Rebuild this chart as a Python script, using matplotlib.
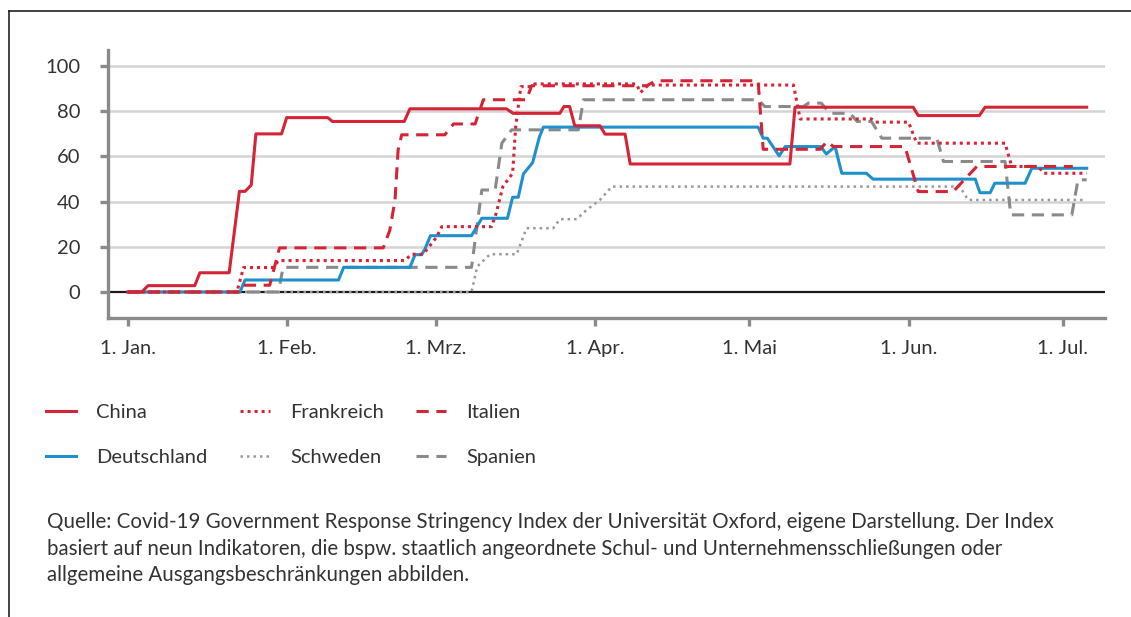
import matplotlib
matplotlib.use("Agg")
import matplotlib.pyplot as plt

# Tage ab 1. Januar 2020 und Indexwerte (Stufen)
china_days = [0, 2.7, 3.9, 13, 14, 19.7, 21.7, 22.8, 24, 24.9, 29.9, 30.9, 38.9, 39.8, 53.8, 54.9, 73.7, 75, 84.1, 84.9,
              86, 87, 91.9, 92.9, 96.8, 97.8, 128.9, 129.9, 152.9, 153.9, 165.8, 166.9, 186.7]
china_vals = [0, 0, 2.8, 2.8, 8.5, 8.5, 44.5, 44.5, 47.3, 69.9, 69.9, 77.1, 77.1, 75.4, 75.4, 81, 81, 79, 79, 82,
              82, 73.5, 73.5, 69.8, 69.8, 56.6, 56.6, 81.7, 81.7, 78, 78, 81.7, 81.7]

de_days = [0, 21.8, 22.8, 41, 42, 54.9, 55.9, 57.2, 57.8, 58.9, 66.9, 68.9, 73.9, 74.9, 76, 77, 78.8, 80.1, 80.9, 122.7,
           123.7, 124.5, 126.8, 128, 134.9, 136, 137.7, 139, 143.8, 145.1, 165, 165.9, 167.9, 168.8, 174.7, 176, 186.7]
de_vals = [0, 0, 5.3, 5.3, 10.9, 10.9, 16.5, 16.5, 18.9, 24.9, 24.9, 32.6, 32.6, 41.9, 41.9, 52.2, 57.2, 68.4, 72.9, 72.9,
           68, 68, 60.2, 64.3, 64.3, 61, 64.3, 52.5, 52.5, 49.9, 49.9, 43.9, 43.9, 48.1, 48.1, 54.7, 54.7]

fr_days = [0, 21.2, 22.5, 28.3, 29.3, 53.9, 55.2, 57.5, 60.1, 61.1, 70.8, 71.7, 73, 74.9, 75.5, 76.5, 78.6, 79.2, 99, 99.8,
           101.3, 129.6, 130.9, 144.8, 145.6, 152, 153.6, 170.8, 172.1, 177.3, 178.3, 186.7]
fr_vals = [0, 0, 10.8, 10.8, 13.9, 13.9, 16.7, 16.7, 24.3, 28.9, 28.9, 34.8, 46.6, 52.5, 73.1, 90.8, 90.8, 92, 92, 88.2,
           91.5, 91.5, 76.5, 76.5, 75.1, 75.1, 65.8, 65.8, 55.5, 55.5, 52.5, 52.5]

se_days = [0, 66.9, 68, 70.5, 75.7, 77.6, 82.8, 84.1, 87.4, 89.3, 91.9, 94.2, 162, 163.6, 186]
se_vals = [0, 0, 11.2, 16.7, 16.7, 28.2, 28.2, 32.2, 32.2, 36.3, 40.7, 46.6, 46.6, 40.7, 40.7]

it_days = [0, 21.5, 22.5, 27.6, 29.5, 49.7, 51, 52, 52.6, 53.3, 61.7, 63.4, 67.6, 69.2, 77.6, 78.6, 101, 102.8, 122.7, 123.7,
           134.8, 136.1, 137.4, 151.3, 153.9, 160.7, 165.3, 184]
it_vals = [0, 0, 3, 3, 19.5, 19.5, 27.4, 40.7, 62.8, 69.5, 69.5, 74.3, 74.3, 85, 85, 91.2, 91.2, 93.4, 93.4, 63.1,
           63.1, 66.5, 64.3, 64.3, 44.4, 44.4, 55.5, 55.5]

es_days = [0, 29.3, 30.2, 66.9, 68.9, 71.5, 72.8, 74.7, 87.7, 88.7, 122.7, 124, 131.5, 132.5, 135, 136.7, 140.6, 142, 144.8, 146.8,
           157.5, 158.8, 170.8, 171.9, 183.8, 185, 186.7]
es_vals = [0, 0, 10.9, 10.9, 45.1, 45.1, 65.8, 71.7, 71.7, 85, 85, 82, 82, 83.5, 83.5, 79, 79, 75.4, 75.4, 68,
           68, 57.7, 57.7, 34.1, 34.1, 49.6, 49.6]

month_days = [0, 31, 60, 91, 121, 152, 182]
month_labels = ["1. Jan.", "1. Feb.", "1. Mrz.", "1. Apr.", "1. Mai", "1. Jun.", "1. Jul."]
y_ticks = [0, 20, 40, 60, 80, 100]

red = "#d42435"
blue = "#1e90cc"
grey = "#8a8a8a"
txt = "#333333"

plt.rcParams['font.family'] = ['Lato', 'DejaVu Sans']

fig = plt.figure(figsize=(11.31, 6.17), dpi=100)
ax = fig.add_axes([108 / 1131, 1 - 318 / 617, (1105 - 108) / 1131, (318 - 50) / 617])

for y in y_ticks[1:]:
    ax.axhline(y, color="#d4d4d4", lw=1.8, zorder=1)
ax.axhline(0, color="#1a1a1a", lw=1.6, zorder=2)

lw = 2.2
l_cn, = ax.plot(china_days, china_vals, color=red, lw=lw, label="China", zorder=5)
l_de, = ax.plot(de_days, de_vals, color=blue, lw=lw, label="Deutschland", zorder=4)
l_fr, = ax.plot(fr_days, fr_vals, color=red, lw=lw, ls=(0, (1, 1.3)), label="Frankreich", zorder=4)
l_se, = ax.plot(se_days, se_vals, color="#999999", lw=1.8, ls=(0, (1, 1.6)), label="Schweden", zorder=3)
l_it, = ax.plot(it_days, it_vals, color=red, lw=lw, ls=(0, (4, 2.5)), label="Italien", zorder=4)
l_es, = ax.plot(es_days, es_vals, color=grey, lw=lw, ls=(0, (4, 2.5)), label="Spanien", zorder=3)

ax.set_xlim((108 - 128) / 5.135, (1105 - 128) / 5.135)
ax.set_ylim(-11.5, 107)
ax.set_xticks(month_days)
ax.set_xticklabels(month_labels)
ax.set_yticks(y_ticks)

for s in ["top", "right"]:
    ax.spines[s].set_visible(False)
for s in ["left", "bottom"]:
    ax.spines[s].set_color(grey)
    ax.spines[s].set_linewidth(2.4)
ax.tick_params(axis="both", colors=grey, width=2.4, length=6, labelcolor=txt, labelsize=14.5)
ax.tick_params(axis="y", pad=14)
ax.tick_params(axis="x", pad=10)

fig.legend(handles=[l_cn, l_de, l_fr, l_se, l_it, l_es], ncol=3, loc="upper left",
           bbox_to_anchor=(46 / 1131, 1 - 404 / 617), frameon=False, fontsize=14.5,
           borderaxespad=0, borderpad=0,
           handlelength=1.5, handletextpad=1.0, columnspacing=1.6, labelspacing=1.4,
           labelcolor=txt)

fig.text(47 / 1131, 1 - 512 / 617,
         "Quelle: Covid-19 Government Response Stringency Index der Universität Oxford, eigene Darstellung. Der Index\n"
         "basiert auf neun Indikatoren, die bspw. staatlich angeordnete Schul- und Unternehmensschließungen oder\n"
         "allgemeine Ausgangsbeschränkungen abbilden.",
         fontsize=14.8, color=txt, va="top", linespacing=1.42)

# Rahmen oben und links
fig.add_artist(plt.Line2D([8.5 / 1131, 8.5 / 1131], [0, 1 - 11 / 617], color="#222222", lw=1.2))
fig.add_artist(plt.Line2D([8.5 / 1131, 1], [1 - 11 / 617, 1 - 11 / 617], color="#222222", lw=1.2))

fig.savefig("out.png", dpi=100)
